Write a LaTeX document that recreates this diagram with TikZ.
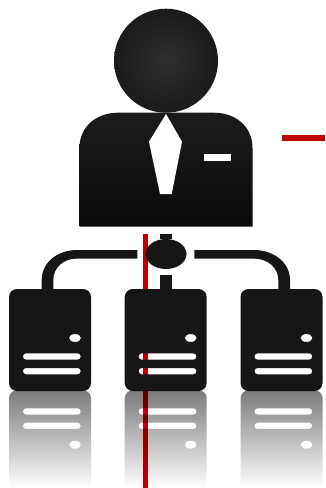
\documentclass[tikz,border=0pt]{standalone}
\usetikzlibrary{fadings,shapes.geometric}
\definecolor{ink}{HTML}{161616}
\definecolor{redline}{HTML}{C00000}
\definecolor{suittop}{HTML}{1C1C1C}
\definecolor{suitbottom}{HTML}{0A0A0A}
\definecolor{headin}{HTML}{2E2E2E}
\definecolor{headout}{HTML}{1B1B1B}
\tikzfading[name=reflectfade,top color=transparent!48,bottom color=transparent!100]
\tikzset{
  serverbox/.style={minimum width=82pt,minimum height=102pt,inner sep=0pt,outer sep=0pt},
  pipe/.style={draw=ink,line width=12pt},
  redbar/.style={fill=redline},
  hubshape/.style={ellipse,fill=ink,minimum width=41pt,minimum height=30pt,inner sep=0pt},
}
% #1 = server node name: rounded body with stripes and dot cut out
\newcommand{\serverbody}[1]{%
  \fill[ink,even odd rule]
    ([xshift=8pt]#1.north west) -- ([xshift=-8pt]#1.north east) arc[start angle=90,end angle=0,radius=8pt]
    -- ([yshift=8pt]#1.south east) arc[start angle=0,end angle=-90,radius=8pt]
    -- ([xshift=8pt]#1.south west) arc[start angle=270,end angle=180,radius=8pt]
    -- ([yshift=-8pt]#1.north west) arc[start angle=180,end angle=90,radius=8pt] -- cycle
    ([xshift=66pt,yshift=-49pt]#1.north west) ellipse[x radius=6pt,y radius=4pt]
    [rounded corners=3pt]
    ([xshift=14pt,yshift=-64.3pt]#1.north west) rectangle ([xshift=71.7pt,yshift=-70.7pt]#1.north west)
    ([xshift=14pt,yshift=-79pt]#1.north west) rectangle ([xshift=71.7pt,yshift=-85.3pt]#1.north west);
}
\newcommand{\serverreflect}[1]{%
  \fill[black,even odd rule,path fading=reflectfade]
    ([xshift=8pt,yshift=0.7pt]#1.south west) -- ([xshift=-8pt,yshift=0.7pt]#1.south east)
    arc[start angle=90,end angle=0,radius=8pt]
    -- ([yshift=-97pt]#1.south east) -- ([yshift=-97pt]#1.south west)
    -- ([yshift=-7.3pt]#1.south west) arc[start angle=180,end angle=90,radius=8pt] -- cycle
    ([xshift=66pt,yshift=-53.7pt]#1.south west) ellipse[x radius=6pt,y radius=4pt]
    [rounded corners=3pt]
    ([xshift=14pt,yshift=-17.3pt]#1.south west) rectangle ([xshift=71.7pt,yshift=-23.7pt]#1.south west)
    ([xshift=14pt,yshift=-31.7pt]#1.south west) rectangle ([xshift=71.7pt,yshift=-38pt]#1.south west);
}
\begin{document}
\begin{tikzpicture}[x=1pt,y=-1pt]
\useasboundingbox (0,0) rectangle (325,488);
\fill[white] (0,0) rectangle (325,488);
% red lines
\fill[redbar] (142.7,234) rectangle (147.7,488);
\fill[redbar] (282,135) rectangle (325,141);
% person
\path[top color=suittop,bottom color=suitbottom]
  (79.5,226.7) -- (79.5,148) .. controls (79.5,126) and (97,112.7) .. (118,112.7)
  -- (214,112.7) .. controls (235,112.7) and (252.5,126) .. (252.5,148) -- (252.5,226.7) -- cycle;
\node[circle,minimum size=104pt,inner sep=0pt,inner color=headin,outer color=headout] (head) at (166,60.7) {};
\fill[white] (166,114) -- (182,141.7) -- (171.7,194) -- (160,194) -- (149,141.7) -- cycle;
\fill[white] (204,154) rectangle (231.3,161.3);
% servers
\node[serverbox] (s1) at (50,340) {};
\node[serverbox] (s2) at (165.7,340) {};
\node[serverbox] (s3) at (281.5,340) {};
\node[hubshape] (hub) at (166,254) {};
\coordinate (top) at (166,234);
% connectors
\draw[pipe] (top) -- (hub.north);
\draw[pipe,shorten <=6pt] (hub.south) -- (hub.center |- s2.north);
\fill[ink] (41.7,289) -- (41.7,280) .. controls (41.7,262) and (58,250) .. (77,250)
  -- (137.3,250) -- (137.3,258.6) -- (77,258.6) .. controls (63,258.6) and (53.3,268) .. (53.3,280) -- (53.3,289) -- cycle;
\fill[ink] (290,289) -- (290,280) .. controls (290,262) and (273,250) .. (254,250)
  -- (194.3,250) -- (194.3,258.6) -- (254,258.6) .. controls (268,258.6) and (278.3,268) .. (278.3,280) -- (278.3,289) -- cycle;
\serverbody{s1}\serverbody{s2}\serverbody{s3}
\serverreflect{s1}\serverreflect{s2}\serverreflect{s3}
\end{tikzpicture}
\end{document}
